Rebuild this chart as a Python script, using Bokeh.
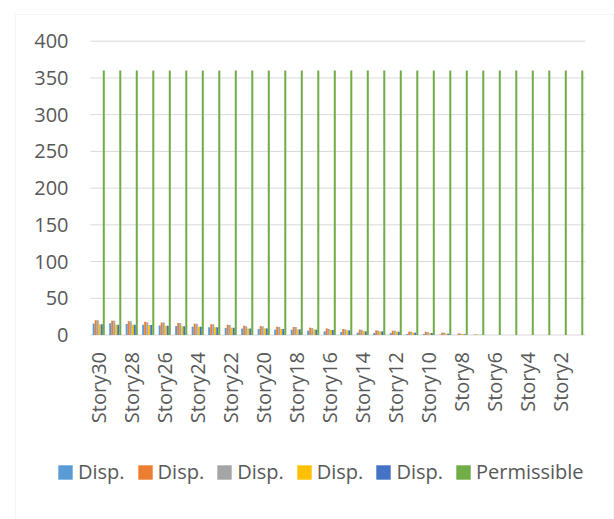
import math
from bokeh.plotting import figure
from bokeh.models import (ColumnDataSource, Legend, LegendItem, Range1d, BoxAnnotation)
from bokeh.core.properties import value
from bokeh.transform import dodge
from bokeh.embed import file_html
from bokeh.resources import INLINE

stories = ["Story30", "Story29", "Story28", "Story27", "Story26", "Story25",
           "Story24", "Story23", "Story22", "Story21", "Story20", "Story19",
           "Story18", "Story17", "Story16", "Story15", "Story14", "Story13",
           "Story12", "Story11", "Story10", "Story9", "Story8", "Story7",
           "Story6", "Story5", "Story4", "Story3", "Story2", "Story1"]
tick_labels = ["Story30", "Story28", "Story26", "Story24", "Story22", "Story20",
               "Story18", "Story16", "Story14", "Story12", "Story10", "Story8",
               "Story6", "Story4", "Story2"]

disp1 = [15.5, 16, 15, 14, 13, 12.2, 11.3, 10.4, 9.5, 9, 8.2, 7.2,
         7.2, 5.9, 5, 4, 3.2, 2.7, 2.7, 1.4, 1.4, 0.5, 0.2, 0.1,
         0, 0, 0, 0, 0, 0]
disp2 = [20, 19.5, 18.6, 18, 17, 16.3, 15.4, 14.5, 14, 12.7, 12.2, 11.3,
         10.9, 10, 9, 8.2, 7.2, 6.3, 5.9, 4.5, 4.5, 3.2, 2.3, 0.8,
         0, 0, 0, 0, 0, 0]
disp3 = [20, 19.5, 18.6, 17, 17, 16.3, 15.4, 14.5, 13.6, 11.8, 11.8, 10.9,
         10.9, 9.5, 8.2, 7.7, 7.2, 5.9, 5.9, 4.5, 4, 3.2, 1.8, 0.6,
         0, 0, 0, 0, 0, 0]
disp4 = [14.5, 14, 14, 13.6, 12.7, 12, 11.3, 10.4, 10, 9, 9, 8.2,
         7.7, 7.7, 6.8, 6.3, 5.4, 5, 4.5, 3.2, 2.7, 1.8, 1.4, 0.4,
         0, 0, 0, 0, 0, 0]
disp5 = [14.5, 14, 14, 13.6, 12.7, 12, 11.3, 10.4, 10, 9, 9, 8.2,
         7.7, 7.2, 6.8, 6.3, 5, 5, 4.5, 3.2, 2.7, 1.8, 1, 0.3,
         0, 0, 0, 0, 0, 0]
permissible = [360, 360, 360, 360, 360, 360, 360, 360, 360, 360, 360, 360,
               360, 360, 360, 360, 360, 360, 360, 360, 360, 360, 360, 360,
               360, 360, 360, 360, 360, 360]

series_names = ["Disp.", "Disp.", "Disp.", "Disp.", "Disp.", "Permissible"]
series_cols = ["d1", "d2", "d3", "d4", "d5", "perm"]
colors = ["#5B9BD5", "#ED7D31", "#A5A5A5", "#FFC000", "#4472C4", "#70AD47"]
y_ticks = [0, 50, 100, 150, 200, 250, 300, 350, 400]
y_tick_labels = ["0", "50", "100", "150", "200", "250", "300", "350", "400"]

TEXT = "#595959"
GRID = "#D9D9D9"
FONT = "Open Sans"

W, H = 614, 519
# plot area (pixels within the canvas)
PL, PR, PT, PB = 90.0, 585.0, 40.7, 334.5
n_cat = len(stories)
ymax = y_ticks[-1]
px_per_x = (PR - PL) / n_cat
px_per_y = (PB - PT) / ymax
x_lo = -0.5 - PL / px_per_x
x_hi = n_cat - 0.5 + (W - PR) / px_per_x
y_lo = -(H - PB) / px_per_y
y_hi = ymax + PT / px_per_y

xpos = list(range(n_cat))
source = ColumnDataSource(dict(x=xpos, story=stories, d1=disp1, d2=disp2,
                               d3=disp3, d4=disp4, d5=disp5, perm=permissible))

p = figure(x_range=Range1d(x_lo, x_hi), y_range=Range1d(y_lo, y_hi),
           width=W, height=H, output_backend="svg", toolbar_location=None,
           x_axis_type=None, y_axis_type=None,
           min_border_left=0, min_border_right=0, min_border_top=0,
           min_border_bottom=0)
p.outline_line_color = None
p.background_fill_color = "white"
p.border_fill_color = "white"
p.xgrid.visible = False
p.ygrid.visible = False

# horizontal gridlines across the plot area
p.segment(x0=[-0.5] * len(y_ticks), x1=[n_cat - 0.5] * len(y_ticks),
          y0=y_ticks, y1=y_ticks, line_color=GRID, line_width=1)

n = len(series_cols)
bw = 1.0 / (n + 2.19)
items = []
for i, (col, name, c) in enumerate(zip(series_cols, series_names, colors)):
    off = (i - (n - 1) / 2) * bw
    r = p.vbar(x=dodge("x", off), top=col, width=bw,
               source=source, fill_color=c, line_color=None)
    items.append(LegendItem(label=name, renderers=[r]))

# value axis labels
p.text(x=[-0.5] * len(y_ticks), y=y_ticks, text=y_tick_labels,
       x_offset=-22, text_align="right", text_baseline="middle",
       text_font=value(FONT), text_font_size=value("20px"), text_color=TEXT)

# category axis labels (every other story)
p.text(x=[stories.index(s) for s in tick_labels], y=[0] * len(tick_labels),
       text=tick_labels, angle=math.pi / 2, y_offset=17,
       text_align="right", text_baseline="middle",
       text_font=value(FONT), text_font_size=value("20px"), text_color=TEXT)

legend = Legend(items=items, orientation="horizontal", location=(56, 34),
                glyph_width=18, glyph_height=18, label_standoff=4, spacing=11,
                padding=0, margin=0, border_line_color=None,
                background_fill_alpha=0, label_text_font=FONT,
                label_text_font_size="20px", label_text_color=TEXT,
                label_height=20)
p.add_layout(legend, "center")

border = BoxAnnotation(left=15, right=613, top=14, bottom=540,
                       left_units="canvas", right_units="canvas",
                       top_units="canvas", bottom_units="canvas",
                       fill_alpha=0, line_color=GRID, line_width=1)
p.add_layout(border)

open("out.html", "w").write(file_html(p, INLINE))
